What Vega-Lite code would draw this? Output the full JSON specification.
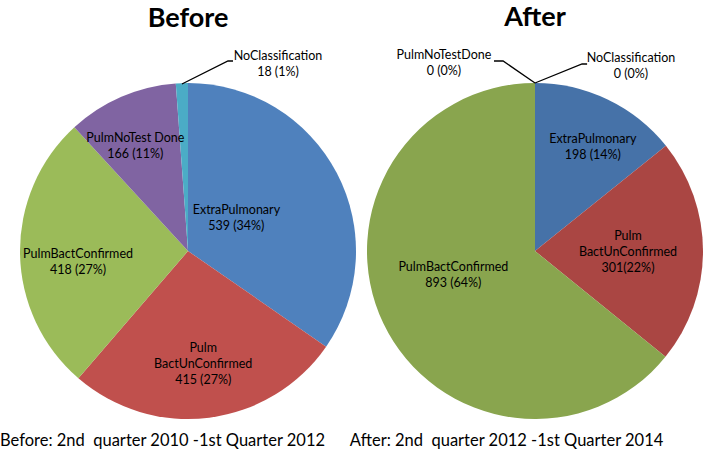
{
  "$schema": "https://vega.github.io/schema/vega-lite/v6.json",
  "padding": {"left": 0, "top": 4, "right": 0, "bottom": 0},
  "bounds": "flush",
  "config": {"view": {"stroke": null}, "font": "Lato"},
  "title": {
    "text": "Before: 2nd\u00a0 quarter 2010 -1st Quarter 2012\u00a0\u00a0\u00a0\u00a0\u00a0 After: 2nd\u00a0 quarter 2012 -1st Quarter 2014",
    "orient": "bottom", "anchor": "start", "fontSize": 16.5, "fontWeight": "normal", "font": "Lato", "color": "#000000", "offset": 14
  },
  "datasets": {
    "pies": [
      {"period": "Before", "cat": "ExtraPulmonary", "n": 539, "ord": 1, "label": "ExtraPulmonary\n539 (34%)"},
      {"period": "Before", "cat": "PulmBactUnConfirmed", "n": 415, "ord": 2, "label": "Pulm\nBactUnConfirmed\n415 (27%)"},
      {"period": "Before", "cat": "PulmBactConfirmed", "n": 418, "ord": 3, "label": "PulmBactConfirmed\n418 (27%)"},
      {"period": "Before", "cat": "PulmNoTestDone", "n": 166, "ord": 4, "label": "PulmNoTest Done\n166 (11%)"},
      {"period": "Before", "cat": "NoClassification", "n": 18, "ord": 5, "label": "NoClassification\n18 (1%)"},
      {"period": "After", "cat": "ExtraPulmonary", "n": 198, "ord": 1, "label": "ExtraPulmonary\n198 (14%)"},
      {"period": "After", "cat": "PulmBactUnConfirmed", "n": 301, "ord": 2, "label": "Pulm\nBactUnConfirmed\n301(22%)"},
      {"period": "After", "cat": "PulmBactConfirmed", "n": 893, "ord": 3, "label": "PulmBactConfirmed\n893 (64%)"},
      {"period": "After", "cat": "PulmNoTestDone", "n": 0, "ord": 4, "label": "PulmNoTestDone\n0 (0%)"},
      {"period": "After", "cat": "NoClassification", "n": 0, "ord": 5, "label": "NoClassification\n0 (0%)"}
    ],
    "leaders": [
      {"period": "Before", "leader": "nc", "i": 1, "lx": -0.036, "ly": -0.994},
      {"period": "Before", "leader": "nc", "i": 2, "lx": 0.238, "ly": -1.131},
      {"period": "Before", "leader": "nc", "i": 3, "lx": 0.268, "ly": -1.131},
      {"period": "After", "leader": "nt", "i": 1, "lx": 0, "ly": -1.0},
      {"period": "After", "leader": "nt", "i": 2, "lx": -0.19, "ly": -1.131},
      {"period": "After", "leader": "nt", "i": 3, "lx": -0.244, "ly": -1.131},
      {"period": "After", "leader": "nc", "i": 1, "lx": 0, "ly": -1.0},
      {"period": "After", "leader": "nc", "i": 2, "lx": 0.28, "ly": -1.113},
      {"period": "After", "leader": "nc", "i": 3, "lx": 0.31, "ly": -1.113}
    ]
  },
  "spacing": 0,
  "resolve": {"scale": {"theta": "independent", "color": "independent", "x": "independent", "y": "independent"}},
  "hconcat": [
    {
      "width": 376,
      "height": 336,
      "title": {"text": "Before", "fontSize": 27, "fontWeight": "bold", "font": "Lato", "anchor": "middle", "color": "#000000", "offset": 17},
      "layer": [
        {
          "data": {"name": "pies"},
          "transform": [{"filter": "datum.period === 'Before'"}],
          "encoding": {
            "theta": {"field": "n", "type": "quantitative", "stack": true},
            "order": {"field": "ord", "type": "quantitative"},
            "detail": {"field": "cat", "type": "nominal"}
          },
          "layer": [
            {
              "mark": {"type": "arc", "outerRadius": 168},
              "encoding": {
                "color": {"field": "cat", "type": "nominal", "legend": null,
                  "scale": {"domain": ["ExtraPulmonary", "PulmBactUnConfirmed", "PulmBactConfirmed", "PulmNoTestDone", "NoClassification"],
                            "range": ["#4F81BD", "#C0504D", "#9BBB59", "#8064A2", "#4BACC6"]}}
              }
            },
            {
              "mark": {"type": "text", "radius": 58, "dx": -3, "dy": -14, "fontSize": 12.5, "font": "Lato", "lineBreak": "\n", "lineHeight": 16, "color": "#000000"},
              "encoding": {"text": {"condition": {"test": "datum.cat === 'ExtraPulmonary'", "field": "label", "type": "nominal"}, "value": ""}}
            },
            {
              "mark": {"type": "text", "radius": 112, "dx": 1, "dy": -14, "fontSize": 12.5, "font": "Lato", "lineBreak": "\n", "lineHeight": 16, "color": "#000000"},
              "encoding": {"text": {"condition": {"test": "datum.cat === 'PulmBactUnConfirmed'", "field": "label", "type": "nominal"}, "value": ""}}
            },
            {
              "mark": {"type": "text", "radius": 110, "dx": 0, "dy": 1, "fontSize": 12.5, "font": "Lato", "lineBreak": "\n", "lineHeight": 16, "color": "#000000"},
              "encoding": {"text": {"condition": {"test": "datum.cat === 'PulmBactConfirmed'", "field": "label", "type": "nominal"}, "value": ""}}
            },
            {
              "mark": {"type": "text", "radius": 115, "dx": -7, "dy": -7, "fontSize": 12.5, "font": "Lato", "lineBreak": "\n", "lineHeight": 16, "color": "#000000"},
              "encoding": {"text": {"condition": {"test": "datum.cat === 'PulmNoTestDone'", "field": "label", "type": "nominal"}, "value": ""}}
            },
            {
              "mark": {"type": "text", "radius": 0, "dx": 90, "dy": -195, "fontSize": 12.5, "font": "Lato", "lineBreak": "\n", "lineHeight": 16, "color": "#000000"},
              "encoding": {"text": {"condition": {"test": "datum.cat === 'NoClassification'", "field": "label", "type": "nominal"}, "value": ""}}
            }
          ]
        },
        {
          "data": {"name": "leaders"},
          "transform": [{"filter": "datum.period === 'Before'"}],
          "mark": {"type": "line", "color": "#000000", "strokeWidth": 1.3},
          "encoding": {
            "x": {"field": "lx", "type": "quantitative", "axis": null, "scale": {"domain": [-1.119, 1.119], "nice": false, "zero": false}},
            "y": {"field": "ly", "type": "quantitative", "axis": null, "scale": {"domain": [-1, 1], "nice": false, "zero": false, "reverse": true}},
            "detail": {"field": "leader", "type": "nominal"},
            "order": {"field": "i", "type": "quantitative"}
          }
        }
      ]
    },
    {
      "width": 318,
      "height": 336,
      "title": {"text": "After", "fontSize": 27, "fontWeight": "bold", "font": "Lato", "anchor": "middle", "color": "#000000", "offset": 17},
      "layer": [
        {
          "data": {"name": "pies"},
          "transform": [{"filter": "datum.period === 'After'"}],
          "encoding": {
            "theta": {"field": "n", "type": "quantitative", "stack": true},
            "order": {"field": "ord", "type": "quantitative"},
            "detail": {"field": "cat", "type": "nominal"}
          },
          "layer": [
            {
              "mark": {"type": "arc", "outerRadius": 168},
              "encoding": {
                "color": {"field": "cat", "type": "nominal", "legend": null,
                  "scale": {"domain": ["ExtraPulmonary", "PulmBactUnConfirmed", "PulmBactConfirmed", "PulmNoTestDone", "NoClassification"],
                            "range": ["#4672A8", "#AA4643", "#89A54E", "#71588F", "#4198AF"]}}
              }
            },
            {
              "mark": {"type": "text", "radius": 120, "dx": 6, "dy": -4, "fontSize": 12.5, "font": "Lato", "lineBreak": "\n", "lineHeight": 16, "color": "#000000"},
              "encoding": {"text": {"condition": {"test": "datum.cat === 'ExtraPulmonary'", "field": "label", "type": "nominal"}, "value": ""}}
            },
            {
              "mark": {"type": "text", "radius": 93, "dx": 0, "dy": -15, "fontSize": 12.5, "font": "Lato", "lineBreak": "\n", "lineHeight": 16, "color": "#000000"},
              "encoding": {"text": {"condition": {"test": "datum.cat === 'PulmBactUnConfirmed'", "field": "label", "type": "nominal"}, "value": ""}}
            },
            {
              "mark": {"type": "text", "radius": 86, "dx": -4, "dy": -21, "fontSize": 12.5, "font": "Lato", "lineBreak": "\n", "lineHeight": 16, "color": "#000000"},
              "encoding": {"text": {"condition": {"test": "datum.cat === 'PulmBactConfirmed'", "field": "label", "type": "nominal"}, "value": ""}}
            },
            {
              "mark": {"type": "text", "radius": 0, "dx": -91, "dy": -196, "fontSize": 12.5, "font": "Lato", "lineBreak": "\n", "lineHeight": 16, "color": "#000000"},
              "encoding": {"text": {"condition": {"test": "datum.cat === 'PulmNoTestDone'", "field": "label", "type": "nominal"}, "value": ""}}
            },
            {
              "mark": {"type": "text", "radius": 0, "dx": 96, "dy": -193, "fontSize": 12.5, "font": "Lato", "lineBreak": "\n", "lineHeight": 16, "color": "#000000"},
              "encoding": {"text": {"condition": {"test": "datum.cat === 'NoClassification'", "field": "label", "type": "nominal"}, "value": ""}}
            }
          ]
        },
        {
          "data": {"name": "leaders"},
          "transform": [{"filter": "datum.period === 'After'"}],
          "mark": {"type": "line", "color": "#000000", "strokeWidth": 1.3},
          "encoding": {
            "x": {"field": "lx", "type": "quantitative", "axis": null, "scale": {"domain": [-0.946, 0.946], "nice": false, "zero": false}},
            "y": {"field": "ly", "type": "quantitative", "axis": null, "scale": {"domain": [-1, 1], "nice": false, "zero": false, "reverse": true}},
            "detail": {"field": "leader", "type": "nominal"},
            "order": {"field": "i", "type": "quantitative"}
          }
        }
      ]
    }
  ]
}
